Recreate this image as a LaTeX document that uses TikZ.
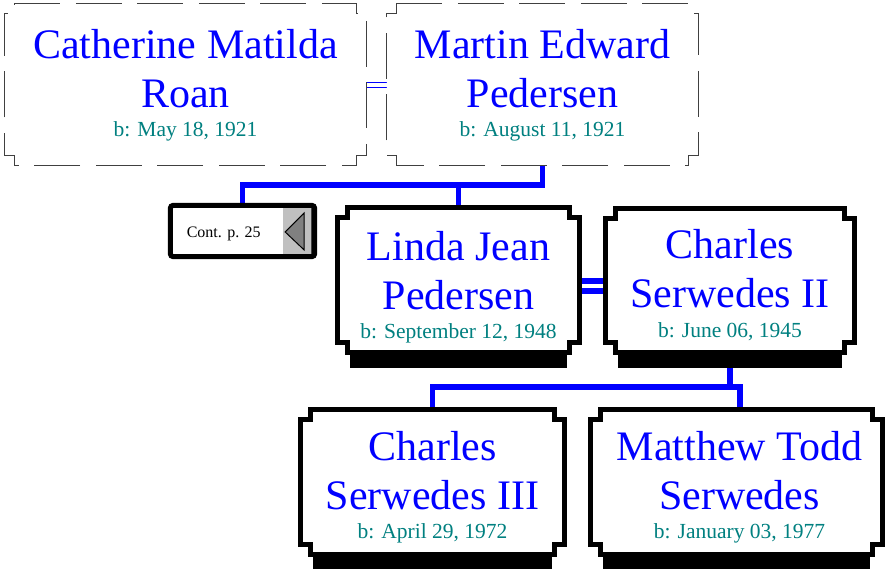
\documentclass[tikz,border=0pt]{standalone}
\usepackage{fontspec}
\setmainfont{Liberation Serif}
\usetikzlibrary{calc}
\definecolor{nameblue}{RGB}{0,0,255}
\definecolor{dateteal}{RGB}{0,128,128}
\definecolor{dashgray}{RGB}{64,64,64}
\definecolor{contgray}{RGB}{192,192,192}
\definecolor{arrowgray}{RGB}{128,128,128}
\newcommand\notchpath[2]{($(#1.north west)+(#2,0)$) -- ($(#1.north east)+(-#2,0)$) -- ++(0,#2) -- ++(#2,0) -- ($(#1.south east)+(0,-#2)$) -- ++(-#2,0) -- ++(0,#2) -- ($(#1.south west)+(#2,0)$) -- ++(0,-#2) -- ++(-#2,0) -- ($(#1.north west)+(0,#2)$) -- ++(#2,0) -- cycle}
\newcommand\datefmt[1]{{\fontsize{21.5}{26}\selectfont\color{dateteal}#1}}
\tikzset{
  box/.style={rectangle, inner sep=0pt, draw=none},
  nametext/.style={align=center, inner sep=0pt, text=nameblue, font=\fontsize{42}{49}\selectfont, anchor=north},
  solidframe/.style={draw=black, line width=5pt, fill=white, line join=miter},
  dashframe/.style={draw=dashgray, line width=1.2pt, dash pattern=on 46pt off 15.5pt, fill=white},
  conn/.style={draw=nameblue, line width=5.5pt, line join=miter},
  thinconn/.style={draw=nameblue, line width=0.9pt},
  shadowbar/.style={fill=black},
}
\begin{document}
\begin{tikzpicture}[x=1pt,y=-1pt]
\useasboundingbox (0,0) rectangle (895,569);
% box placeholders
\node[box, minimum width=361pt, minimum height=161pt] (cat) at (185.5,84.5) {};
\node[box, minimum width=311pt, minimum height=161pt] (mar) at (542.5,84.5) {};
\node[box, minimum width=242pt, minimum height=145pt] (linda) at (458.5,280) {};
\node[box, minimum width=249pt, minimum height=144pt] (ch2) at (730,280.5) {};
\node[box, minimum width=264pt, minimum height=145pt] (c3) at (432.5,482) {};
\node[box, minimum width=292pt, minimum height=145pt] (mat) at (736.5,482) {};
\node[box, minimum width=144pt, minimum height=51pt] (cont) at (242.5,231) {};
% connectors
\coordinate (j1) at ($(mar.south)+(0,20)$);
\draw[conn] (cont.north) |- (j1) -- (mar.south);
\draw[conn] (linda.north) -- (linda.north |- j1);
\coordinate (j2) at ($(ch2.south)+(0,34.5)$);
\draw[conn] (c3.north) |- (j2) -| ([xshift=3.5pt]mat.north);
\draw[conn] (ch2.south) -- (j2);
% marriages
\path ([yshift=2.5pt]cat.east) coordinate (m1) ([yshift=-2.5pt]cat.east) coordinate (m2);
\draw[thinconn] (m1) -- (m1 -| mar.west);
\draw[thinconn] (m2) -- (m2 -| mar.west);
\path ([yshift=-1pt]linda.east) coordinate (m3) ([yshift=-11pt]linda.east) coordinate (m4);
\draw[conn] (m3) -- (m3 -| ch2.west);
\draw[conn] (m4) -- (m4 -| ch2.west);
% shadows
\foreach \b in {linda,ch2,c3,mat}{
  \fill[shadowbar] ($(\b.south west)+(13,0)$) rectangle ($(\b.south east)+(-13,15.5)$);
}
% frames
\draw[dashframe] \notchpath{cat}{9.5};
\draw[dashframe] \notchpath{mar}{9.5};
\draw[solidframe] \notchpath{linda}{10};
\draw[solidframe] \notchpath{ch2}{10};
\draw[solidframe] \notchpath{c3}{10};
\draw[solidframe] \notchpath{mat}{10};
% texts
\node[nametext] (catt) at ($(cat.north)+(0,25.3)$) {Catherine Matilda\\Roan\\[-19.5pt]\datefmt{b: May 18, 1921}};
\node[nametext] (mart) at ($(mar.north)+(0,25.3)$) {Martin Edward\\Pedersen\\[-19.5pt]\datefmt{b: August 11, 1921}};
\node[nametext] (lindat) at ($(linda.north)+(0,23.8)$) {Linda Jean\\Pedersen\\[-19.5pt]\datefmt{b: September 12, 1948}};
\node[nametext] (ch2t) at ($(ch2.north)+(0,21.3)$) {Charles\\Serwedes II\\[-19.5pt]\datefmt{b: June 06, 1945}};
\node[nametext] (c3t) at ($(c3.north)+(0,21.8)$) {Charles\\Serwedes III\\[-19.5pt]\datefmt{b: April 29, 1972}};
\node[nametext] (matt) at ($(mat.north)+(3,21.8)$) {Matthew Todd\\Serwedes\\[-19.5pt]\datefmt{b: January 03, 1977}};
% continuation box
\draw[draw=black, line width=5pt, fill=white, rounded corners=3pt] (cont.north west) rectangle (cont.south east);
\fill[contgray] ($(cont.north east)+(-31.5,2.5)$) rectangle ($(cont.south east)+(-3.5,-2.5)$);
\draw[dashgray, line width=0.8pt] ($(cont.north east)+(-3.8,2.5)$) -- ($(cont.south east)+(-3.8,-2.5)$);
\draw[fill=arrowgray, draw=black, line width=1pt, line join=miter] ($(cont.east)+(-29.5,1)$) -- ($(cont.east)+(-10.5,-18)$) -- ($(cont.east)+(-10.5,19)$) -- cycle;
\node[anchor=base, inner sep=0pt, font=\fontsize{16}{19}\selectfont] (contt) at (223.7,237.3) {Cont. p. 25};
\end{tikzpicture}
\end{document}
